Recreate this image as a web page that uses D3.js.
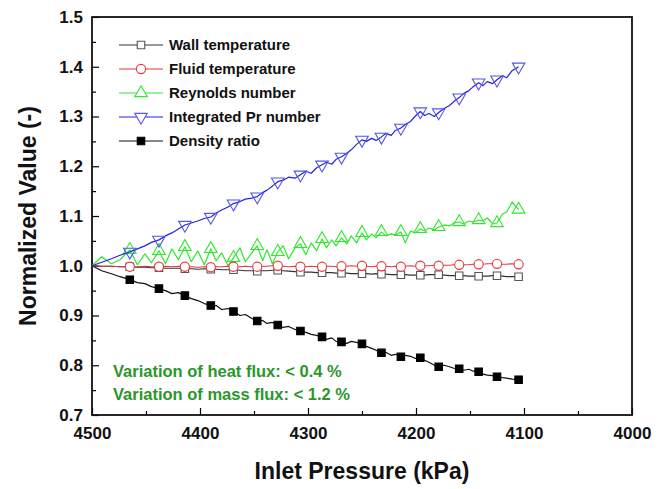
<!DOCTYPE html>
<html>
<head>
<meta charset="utf-8">
<script src="https://cdn.jsdelivr.net/npm/d3@7/dist/d3.min.js"></script>
<style>
  body { margin: 0; background: #fff; }
  svg { display: block; font-family: "Liberation Sans", Arial, sans-serif; }
</style>
</head>
<body>
<svg id="chart" width="670" height="489"></svg>
<script>
// inlet pressure (kPa), shared by every series
var pressure = [4500, 4491, 4482, 4474, 4465,
  4458, 4451, 4445, 4438, 4432, 4426, 4420, 4414, 4408, 4402, 4396, 4390,
  4385, 4380, 4374, 4369, 4363, 4358, 4352, 4347, 4342, 4338, 4333, 4328,
  4323, 4318, 4312, 4307, 4302, 4297, 4292, 4287, 4283, 4278, 4274, 4269,
  4264, 4260, 4255, 4250, 4246, 4241, 4237, 4232, 4228, 4223, 4219, 4214,
  4210, 4205, 4201, 4196, 4192, 4188, 4183, 4179, 4174, 4169, 4165, 4160,
  4156, 4151, 4147, 4142, 4138, 4134, 4129, 4125, 4120, 4116, 4111, 4105];

var wallTemp = [1.000, 0.999, 0.999, 0.998, 0.998,
  0.997, 0.997, 0.996, 0.996, 0.995, 0.995, 0.995, 0.994, 0.994, 0.993, 0.994, 0.993,
  0.993, 0.992, 0.992, 0.992, 0.991, 0.990, 0.990, 0.989, 0.990, 0.990, 0.991, 0.991,
  0.990, 0.989, 0.988, 0.987, 0.987, 0.987, 0.986, 0.986, 0.986, 0.986, 0.985, 0.985,
  0.985, 0.984, 0.984, 0.984, 0.984, 0.983, 0.984, 0.983, 0.983, 0.982, 0.982, 0.982,
  0.982, 0.981, 0.981, 0.981, 0.981, 0.982, 0.982, 0.982, 0.981, 0.980, 0.980, 0.980,
  0.980, 0.979, 0.979, 0.979, 0.979, 0.979, 0.980, 0.980, 0.979, 0.978, 0.978, 0.978];

var fluidTemp = [1.000, 0.999, 0.999, 0.998, 0.998,
  0.998, 0.999, 0.998, 0.998, 0.999, 0.998, 0.999, 0.998, 0.998, 0.997, 0.998, 0.997,
  0.998, 0.998, 0.999, 0.998, 0.998, 0.999, 0.998, 0.998, 0.999, 0.999, 1.000, 1.000,
  0.999, 0.998, 0.999, 0.998, 0.998, 0.999, 0.998, 0.998, 0.999, 0.999, 0.998, 0.999,
  0.999, 1.000, 0.999, 1.000, 0.999, 0.998, 0.999, 0.999, 0.999, 0.998, 0.999, 0.998,
  0.999, 1.000, 0.999, 1.000, 1.000, 1.000, 1.001, 1.000, 1.001, 1.001, 1.002, 1.002,
  1.002, 1.002, 1.003, 1.003, 1.003, 1.004, 1.004, 1.004, 1.003, 1.003, 1.004, 1.003];

var reynolds = [1.000, 1.018, 1.004, 1.012, 1.032,
  1.002, 1.024, 1.006, 1.030, 1.004, 1.034, 1.012, 1.038, 1.008, 1.030, 1.002, 1.034,
  1.010, 1.026, 1.000, 1.016, 1.036, 1.008, 1.026, 1.040, 1.010, 1.032, 1.004, 1.028,
  1.040, 1.014, 1.036, 1.044, 1.022, 1.046, 1.030, 1.054, 1.036, 1.052, 1.040, 1.056,
  1.044, 1.060, 1.046, 1.066, 1.052, 1.064, 1.056, 1.068, 1.060, 1.064, 1.062, 1.068,
  1.046, 1.070, 1.066, 1.074, 1.070, 1.076, 1.072, 1.078, 1.082, 1.080, 1.086, 1.088,
  1.084, 1.090, 1.088, 1.092, 1.090, 1.096, 1.084, 1.086, 1.104, 1.108, 1.128, 1.113];

var prandtl = [1.000, 1.007, 1.014, 1.021, 1.028,
  1.034, 1.040, 1.047, 1.052, 1.060, 1.066, 1.074, 1.082, 1.086, 1.090, 1.095, 1.098,
  1.106, 1.112, 1.118, 1.125, 1.129, 1.134, 1.136, 1.139, 1.147, 1.152, 1.160, 1.169,
  1.172, 1.178, 1.176, 1.183, 1.190, 1.186, 1.197, 1.203, 1.208, 1.204, 1.214, 1.219,
  1.226, 1.233, 1.244, 1.253, 1.250, 1.256, 1.252, 1.259, 1.266, 1.262, 1.272, 1.277,
  1.284, 1.290, 1.300, 1.310, 1.302, 1.306, 1.300, 1.308, 1.316, 1.322, 1.330, 1.338,
  1.346, 1.352, 1.360, 1.368, 1.362, 1.370, 1.366, 1.374, 1.382, 1.378, 1.392, 1.400];

var densityRatio = [1.000, 0.990, 0.984, 0.978, 0.972,
  0.966, 0.964, 0.958, 0.954, 0.950, 0.944, 0.946, 0.940, 0.934, 0.930, 0.924, 0.920,
  0.920, 0.912, 0.914, 0.908, 0.900, 0.902, 0.894, 0.889, 0.890, 0.884, 0.886, 0.881,
  0.876, 0.878, 0.872, 0.869, 0.866, 0.862, 0.860, 0.857, 0.852, 0.855, 0.848, 0.847,
  0.844, 0.848, 0.846, 0.843, 0.838, 0.834, 0.830, 0.825, 0.826, 0.820, 0.822, 0.817,
  0.820, 0.818, 0.814, 0.815, 0.810, 0.806, 0.800, 0.797, 0.800, 0.797, 0.794, 0.793,
  0.790, 0.792, 0.788, 0.787, 0.782, 0.780, 0.779, 0.777, 0.775, 0.774, 0.772, 0.771];

var seriesNames = ["Wall temperature", "Fluid temperature", "Reynolds number",
  "Integrated Pr number", "Density ratio"];
var xTicks = [4500, 4400, 4300, 4200, 4100, 4000];
var yTicks = [0.7, 0.8, 0.9, 1.0, 1.1, 1.2, 1.3, 1.4, 1.5];
var notes = ["Variation of heat flux: < 0.4 %", "Variation of mass flux: < 1.2 %"];

var svg = d3.select("#chart");
var margin = {left: 92, top: 17, right: 38, bottom: 74};
var width = 670 - margin.left - margin.right;
var height = 489 - margin.top - margin.bottom;

var g = svg.append("g")
    .attr("transform", "translate(" + margin.left + "," + margin.top + ")");

var x = d3.scaleLinear().domain([4500, 4000]).range([0, width]);
var y = d3.scaleLinear().domain([0.7, 1.5]).range([height, 0]);

// minor ticks first, then major ticks with labels
g.append("g")
    .attr("transform", "translate(0," + height + ")")
    .call(d3.axisBottom(x).tickValues(d3.range(4450, 4000, -100)).tickSize(-4).tickFormat(""))
    .call(function(a) { a.select(".domain").remove(); });
g.append("g")
    .call(d3.axisLeft(y).tickValues(d3.range(0.75, 1.5, 0.1)).tickSize(-4).tickFormat(""))
    .call(function(a) { a.select(".domain").remove(); });

var xAxis = g.append("g")
    .attr("transform", "translate(0," + height + ")")
    .call(d3.axisBottom(x).tickValues(xTicks).tickSizeInner(-7).tickSizeOuter(0).tickPadding(12)
      .tickFormat(d3.format("d")));
var yAxis = g.append("g")
    .call(d3.axisLeft(y).tickValues(yTicks).tickSizeInner(-7).tickSizeOuter(0).tickPadding(9)
      .tickFormat(d3.format(".1f")));

[xAxis, yAxis].forEach(function(a) {
  a.select(".domain").remove();
  a.selectAll(".tick text")
    .attr("font-family", "Liberation Sans, Arial, sans-serif")
    .attr("font-size", 17)
    .attr("font-weight", "bold")
    .attr("fill", "#111");
});
g.selectAll(".tick line").attr("stroke", "#000").attr("stroke-width", 1.2);

// frame
g.append("rect")
    .attr("x", 0).attr("y", 0)
    .attr("width", width).attr("height", height)
    .attr("fill", "none")
    .attr("stroke", "#111")
    .attr("stroke-width", 1.8);

var symSquare = d3.symbol().type(d3.symbolSquare).size(56);
var symCircle = d3.symbol().type(d3.symbolCircle).size(66);
var symUp = d3.symbol().type(d3.symbolTriangle).size(68);

var series = [
  {name: seriesNames[0], values: wallTemp, color: "#333", mColor: "#555", fill: "#fff", sym: symSquare, rot: 0},
  {name: seriesNames[1], values: fluidTemp, color: "#e8383d", mColor: "#e8383d", fill: "#fff", sym: symCircle, rot: 0},
  {name: seriesNames[2], values: reynolds, color: "#2ee82e", mColor: "#2ee82e", fill: "none", sym: symUp, rot: 0},
  {name: seriesNames[3], values: prandtl, color: "#2323e0", mColor: "#5555e6", fill: "none", sym: symUp, rot: 180},
  {name: seriesNames[4], values: densityRatio, color: "#111", mColor: "#000", fill: "#000", sym: symSquare, rot: 0}
];

var line = d3.line()
    .x(function(d, i) { return x(pressure[i]); })
    .y(function(d) { return y(d); });

// draw lines from back to front roughly like the original
var order = [2, 4, 0, 1, 3];
order.forEach(function(k) {
  var s = series[k];
  g.append("path")
      .datum(s.values)
      .attr("d", line)
      .attr("fill", "none")
      .attr("stroke", s.color)
      .attr("stroke-width", 1.2)
      .attr("stroke-linejoin", "round");

  g.selectAll(".m" + k)
      .data(s.values.filter(function(d, i) { return i > 0 && i % 4 === 0; }))
      .enter()
      .append("path")
      .attr("class", "m" + k)
      .attr("d", s.sym)
      .attr("transform", function(d, j) {
        var i = (j + 1) * 4;
        return "translate(" + x(pressure[i]) + "," + y(d) + ") rotate(" + s.rot + ")";
      })
      .attr("fill", s.fill)
      .attr("stroke", s.mColor)
      .attr("stroke-width", 1.1);
});

// legend
var legend = g.append("g").attr("transform", "translate(27,28)");
series.forEach(function(s, i) {
  var row = legend.append("g").attr("transform", "translate(0," + (i * 24) + ")");
  row.append("line")
      .attr("x1", 0).attr("x2", 44)
      .attr("y1", 0).attr("y2", 0)
      .attr("stroke", s.color)
      .attr("stroke-width", 1.2);
  row.append("path")
      .attr("d", s.sym)
      .attr("transform", "translate(22,0) rotate(" + s.rot + ")")
      .attr("fill", s.fill === "none" ? "#fff" : s.fill)
      .attr("stroke", s.mColor)
      .attr("stroke-width", 1.1);
  row.append("text")
      .attr("x", 50)
      .attr("y", 5)
      .attr("font-size", 15)
      .attr("font-weight", "bold")
      .attr("fill", "#111")
      .text(s.name);
});

// notes
notes.forEach(function(t, i) {
  g.append("text")
      .attr("x", 21)
      .attr("y", 360 + i * 23)
      .attr("font-size", 16.5)
      .attr("font-weight", "bold")
      .attr("fill", "#2b962b")
      .text(t);
});

// axis titles
svg.append("text")
    .attr("x", margin.left + width / 2)
    .attr("y", 479)
    .attr("text-anchor", "middle")
    .attr("font-size", 23)
    .attr("font-weight", "bold")
    .attr("fill", "#111")
    .text("Inlet Pressure (kPa)");

svg.append("text")
    .attr("transform", "translate(36," + (margin.top + height / 2) + ") rotate(-90)")
    .attr("text-anchor", "middle")
    .attr("font-size", 23)
    .attr("font-weight", "bold")
    .attr("fill", "#111")
    .text("Normalized Value (-)");
</script>
</body>
</html>
